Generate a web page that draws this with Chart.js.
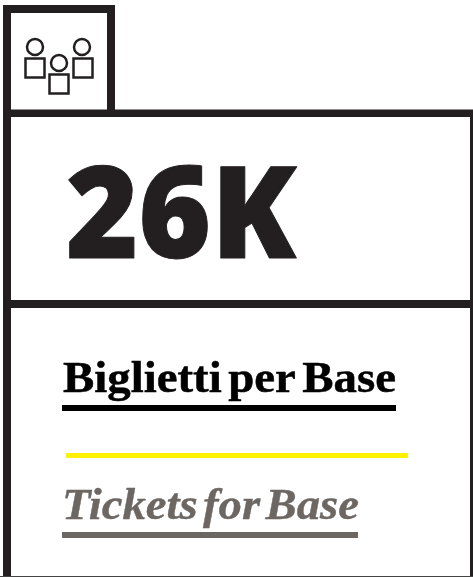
<!DOCTYPE html>
<html><head><meta charset="utf-8">
<style>html,body{margin:0;padding:0;background:#fff}#w{position:absolute;left:0;top:0;width:473px;height:577px}</style>
<script src="https://cdn.jsdelivr.net/npm/chart.js@4"></script>
</head><body><div id="w"><canvas id="c" width="473" height="577"></canvas></div>
<script>
const categories = ['Biglietti per Base'];
const values = [26000];
const titleIt = 'Biglietti per Base';
const titleEn = 'Tickets for Base';
const kpi = Math.round(values[0] / 1000) + 'K';

const INK = '#231f20', GREY = '#6d6763', YEL = '#fff200';

function fit(ctx, text, font, color, x, base, w, opt) {
  opt = opt || {};
  ctx.save();
  ctx.font = font; ctx.fillStyle = color; ctx.textBaseline = 'alphabetic'; ctx.textAlign = 'left';
  if (opt.word) ctx.wordSpacing = opt.word;
  const m = ctx.measureText(text);
  const sx = w / (m.actualBoundingBoxRight + m.actualBoundingBoxLeft);
  ctx.translate(x + m.actualBoundingBoxLeft * sx, base);
  ctx.scale(sx, 1);
  ctx.fillText(text, 0, 0);
  if (opt.bold) { ctx.strokeStyle = color; ctx.lineWidth = opt.bold; ctx.lineJoin = 'round'; ctx.strokeText(text, 0, 0); }
  ctx.restore();
}
const card = {
  id: 'card',
  afterDraw(chart) {
    const c = chart.ctx;
    c.save();
    c.fillStyle = INK;
    c.fillRect(3, 5, 8, 572);
    c.fillRect(3, 5, 112, 8);
    c.fillRect(107, 5, 8, 112);
    c.fillRect(3, 109.5, 470, 7.5);
    c.fillRect(3, 300, 470, 8);
    c.fillRect(470, 117, 3, 183);
    c.fillRect(470, 308, 3, 269);
    c.fillStyle = '#444';
    c.fillRect(0, 576, 473, 1);
    c.strokeStyle = INK; c.lineWidth = 2.5;
    [[35, 47], [82, 47], [59, 63]].forEach(p => { c.beginPath(); c.arc(p[0], p[1], 8, 0, Math.PI * 2); c.stroke(); });
    [[25.5, 58.5], [73.5, 58.5], [49.5, 74.5]].forEach(p => c.strokeRect(p[0], p[1], 19, 19));
    c.fillStyle = '#000'; c.fillRect(62, 405, 334, 6);
    c.fillStyle = YEL; c.fillRect(66, 453, 342, 5);
    c.fillStyle = GREY; c.fillRect(62, 532, 296, 6);
    c.restore();
    fit(c, kpi, '800 127px "Open Sans"', INK, 68, 258, 229, { bold: 1 });
    fit(c, titleIt, 'bold 45px "Liberation Serif"', '#000', 63, 392, 332, { word: '-5px', bold: 0.5 });
    fit(c, titleEn, 'italic bold 45px "Liberation Serif"', GREY, 65, 519, 293, { word: '-6px', bold: 0.4 });
  }
};
new Chart(document.getElementById('c'), {
  type: 'bar',
  data: { labels: categories, datasets: [{ data: values, backgroundColor: 'rgba(0,0,0,0)', borderWidth: 0 }] },
  options: {
    responsive: false, animation: false,
    events: [],
    plugins: { legend: { display: false }, tooltip: { enabled: false } },
    scales: { x: { display: false }, y: { display: false, beginAtZero: true } }
  },
  plugins: [card]
});
</script></body></html>
